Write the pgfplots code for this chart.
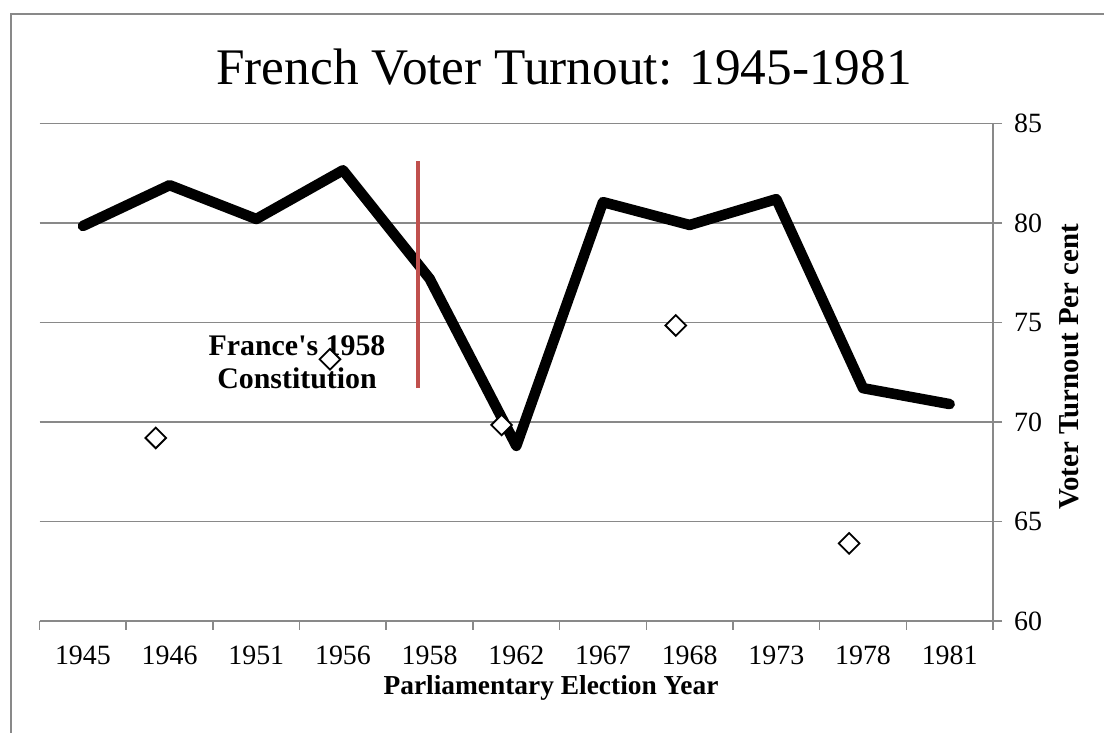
\documentclass[border=0pt]{standalone}
\usepackage{fontspec}
\setmainfont{Liberation Serif}
\usepackage{pgfplots}
\pgfplotsset{compat=1.18}
\definecolor{gridgray}{HTML}{898989}
\definecolor{redline}{HTML}{C0504D}
\begin{document}
\begin{tikzpicture}[x=1bp,y=1bp]
\useasboundingbox (0,0) rectangle (1104,733);
\fill[white] (0,0) rectangle (1104,733);
\draw[gridgray, line width=2.2bp] (11,0) -- (11,719) -- (1104,719);
\node[font=\fontsize{51.5}{56}\selectfont] at (564,666) {French Voter Turnout: 1945-1981};
\node[font=\fontsize{27.5}{30}\selectfont\bfseries] at (551,45) {Parliamentary Election Year};
\node[font=\fontsize{29}{32}\selectfont\bfseries, rotate=90] at (1069,366) {Voter Turnout Per cent};
\begin{axis}[
  at={(39.6bp,112bp)}, anchor=south west,
  width=953.4bp, height=497.5bp, scale only axis,
  xmin=-0.5, xmax=10.5, ymin=60, ymax=85,
  axis x line*=bottom, axis y line*=right,
  axis line style={draw=gridgray, line width=1.6bp},
  tick align=outside,
  major tick length=9bp,
  tick style={draw=gridgray, line width=1.6bp},
  xtick={-0.5,0.5,...,10.5},
  xticklabels={},
  extra x ticks={0,1,2,3,4,5,6,7,8,9,10},
  extra x tick labels={1945,1946,1951,1956,1958,1962,1967,1968,1973,1978,1981},
  extra x tick style={major tick length=0pt},
  ytick={60,65,70,75,80,85},
  ymajorgrids,
  grid style={draw=gridgray, line width=1.6bp},
  /pgf/number format/assume math mode=true,
  ticklabel style={font=\fontsize{28}{30}\selectfont},
  xticklabel style={anchor=base, inner sep=0pt, yshift=-44bp},
  yticklabel style={anchor=west, inner sep=0pt, xshift=12bp},
  clip=false,
]
\addplot[black, line width=10.5bp, line join=round, line cap=round]
  coordinates {(0,79.85) (1,81.9) (2,80.2) (3,82.65) (4,77.2) (5,68.8) (6,81.05) (7,79.9) (8,81.2) (9,71.7) (10,70.9)};
\addplot[only marks, mark=square*, mark size=7.3bp,
  mark options={rotate=45, fill=white, draw=black, line width=1.8bp}]
  coordinates {(0.84,69.2) (2.85,73.15) (4.83,69.85) (6.84,74.85) (8.84,63.9)};
\addplot[redline, line width=4.5bp]
  coordinates {(3.865,71.7) (3.865,83.1)};
\node[font=\fontsize{30}{33}\selectfont\bfseries, align=center] at (axis cs:2.47,73.0) {France\textquotesingle s 1958\\Constitution};
\end{axis}
\end{tikzpicture}
\end{document}
